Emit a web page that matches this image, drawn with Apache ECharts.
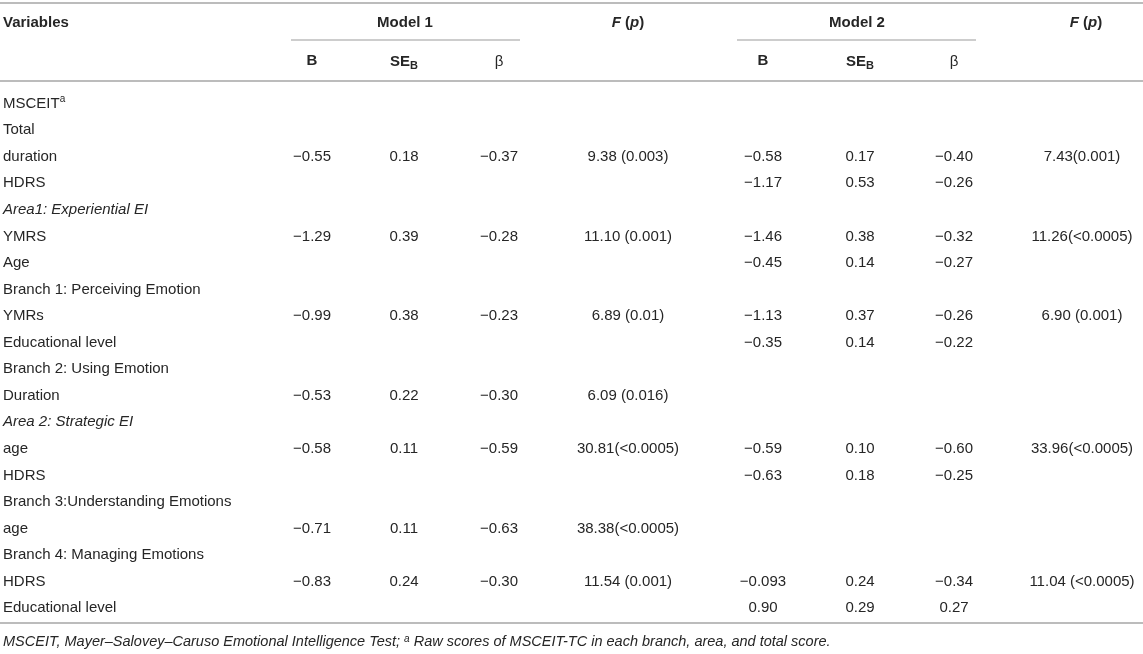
<!DOCTYPE html>
<html>
<head>
<meta charset="utf-8">
<script src="https://cdn.jsdelivr.net/npm/echarts@6/dist/echarts.min.js"></script>
<style>
  html, body { margin: 0; padding: 0; background: #fff; }
  #main { width: 1143px; height: 654px; }
</style>
</head>
<body>
<div id="main"></div>
<script>
// row labels (first column)
var variables = ['MSCEIT', 'Total', 'duration', 'HDRS', 'Area1: Experiential EI', 'YMRS', 'Age',
    'Branch 1: Perceiving Emotion', 'YMRs', 'Educational level', 'Branch 2: Using Emotion', 'Duration',
    'Area 2: Strategic EI', 'age', 'HDRS', 'Branch 3:Understanding Emotions', 'age',
    'Branch 4: Managing Emotions', 'HDRS', 'Educational level'];
var italicRows = [4, 12];

// Model 1
var m1B    = [null, null, '−0.55', null, null, '−1.29', null, null, '−0.99', null, null, '−0.53', null, '−0.58', null, null, '−0.71', null, '−0.83', null];
var m1SE   = [null, null, '0.18', null, null, '0.39', null, null, '0.38', null, null, '0.22', null, '0.11', null, null, '0.11', null, '0.24', null];
var m1Beta = [null, null, '−0.37', null, null, '−0.28', null, null, '−0.23', null, null, '−0.30', null, '−0.59', null, null, '−0.63', null, '−0.30', null];
var m1F    = [null, null, '9.38 (0.003)', null, null, '11.10 (0.001)', null, null, '6.89 (0.01)', null, null, '6.09 (0.016)', null, '30.81(<0.0005)', null, null, '38.38(<0.0005)', null, '11.54 (0.001)', null];

// Model 2
var m2B    = [null, null, '−0.58', '−1.17', null, '−1.46', '−0.45', null, '−1.13', '−0.35', null, null, null, '−0.59', '−0.63', null, null, null, '−0.093', '0.90'];
var m2SE   = [null, null, '0.17', '0.53', null, '0.38', '0.14', null, '0.37', '0.14', null, null, null, '0.10', '0.18', null, null, null, '0.24', '0.29'];
var m2Beta = [null, null, '−0.40', '−0.26', null, '−0.32', '−0.27', null, '−0.26', '−0.22', null, null, null, '−0.60', '−0.25', null, null, null, '−0.34', '0.27'];
var m2F    = [null, null, '7.43(0.001)', null, null, '11.26(<0.0005)', null, null, '6.90 (0.001)', null, null, null, null, '33.96(<0.0005)', null, null, null, null, '11.04 (<0.0005)', null];

var footnote = 'MSCEIT, Mayer–Salovey–Caruso Emotional Intelligence Test; {sup|a} Raw scores of MSCEIT-TC in each branch, area, and total score.';

// column layout (pixels) – styling only
var FONT = "'Liberation Sans', Arial, Helvetica, sans-serif";
var INK = '#262626';
var RULE = '#bcbcbc';
var columns = [
    { values: variables, x: 3,    align: 'left' },
    { values: m1B,       x: 312,  align: 'center' },
    { values: m1SE,      x: 404,  align: 'center' },
    { values: m1Beta,    x: 499,  align: 'center' },
    { values: m1F,       x: 628,  align: 'center' },
    { values: m2B,       x: 763,  align: 'center' },
    { values: m2SE,      x: 860,  align: 'center' },
    { values: m2Beta,    x: 954,  align: 'center' },
    { values: m2F,       x: 1082, align: 'center' }
];

var cells = [];
columns.forEach(function (c, ci) {
    c.values.forEach(function (v, ri) {
        if (v !== null) cells.push({ value: [ci, ri], text: v });
    });
});

function hdr(text, x, y, align, extra) {
    return {
        type: 'text', x: x, y: y, silent: true,
        style: Object.assign({
            text: text, fill: INK, textAlign: align, textVerticalAlign: 'middle',
            font: 'bold 15px ' + FONT
        }, extra || {})
    };
}
function rule(x1, x2, y, w) {
    return { type: 'line', silent: true, shape: { x1: x1, y1: y, x2: x2, y2: y }, style: { stroke: RULE, lineWidth: w } };
}

var fpRich = {
    rich: {
        it: { fontFamily: FONT, fontSize: 15, fontWeight: 'bold', fontStyle: 'italic', color: INK },
        n:  { fontFamily: FONT, fontSize: 15, fontWeight: 'bold', color: INK }
    }
};
var seRich = {
    rich: {
        n:   { fontFamily: FONT, fontSize: 15, fontWeight: 'bold', color: INK, lineHeight: 18 },
        sub: { fontFamily: FONT, fontSize: 11, fontWeight: 'bold', color: INK, verticalAlign: 'bottom', lineHeight: 15 }
    }
};
var betaStyle = { font: '15px ' + FONT };

var chart = echarts.init(document.getElementById('main'));
chart.setOption({
    backgroundColor: '#fff',
    animation: false,
    grid: { left: 0, right: 0, top: 90.4, bottom: 32.6 },
    xAxis: { type: 'value', min: 0, max: 1143, show: false },
    yAxis: { type: 'category', data: variables, inverse: true, show: false },
    graphic: [
        rule(0, 1143, 3, 2),
        rule(291, 520, 40, 1.5),
        rule(737, 976, 40, 1.5),
        rule(0, 1143, 81, 2),
        rule(0, 1143, 623, 2),
        hdr('Variables', 3, 23, 'left'),
        hdr('Model 1', 405, 23, 'center'),
        hdr('{it|F} {n|(}{it|p}{n|)}', 628, 23, 'center', fpRich),
        hdr('Model 2', 857, 23, 'center'),
        hdr('{it|F} {n|(}{it|p}{n|)}', 1086, 23, 'center', fpRich),
        hdr('B', 312, 61, 'center'),
        hdr('{n|SE}{sub|B}', 404, 62, 'center', seRich),
        hdr('β', 499, 62, 'center', betaStyle),
        hdr('B', 763, 61, 'center'),
        hdr('{n|SE}{sub|B}', 860, 62, 'center', seRich),
        hdr('β', 954, 62, 'center', betaStyle),
        {
            type: 'text', x: 3, y: 642, silent: true,
            style: {
                text: footnote, fill: INK, textVerticalAlign: 'middle',
                font: 'italic 14.5px ' + FONT,
                rich: { sup: { fontFamily: FONT, fontStyle: 'italic', fontSize: 10, color: INK, verticalAlign: 'top', lineHeight: 14 } }
            }
        }
    ],
    series: [{
        type: 'custom',
        data: cells,
        silent: true,
        renderItem: function (params, api) {
            var cell = cells[params.dataIndex];
            var c = columns[cell.value[0]];
            var pt = api.coord([c.x, cell.value[1]]);
            var row = cell.value[1];
            var style = {
                text: cell.text, fill: INK, textAlign: c.align, textVerticalAlign: 'middle',
                font: '15px ' + FONT
            };
            if (cell.value[0] === 0 && italicRows.indexOf(row) >= 0) style.font = 'italic 15px ' + FONT;
            if (cell.value[0] === 0 && row === 0) {
                style.text = '{n|MSCEIT}{sup|a}';
                style.rich = {
                    n: { fontFamily: FONT, fontSize: 15, color: INK, lineHeight: 18 },
                    sup: { fontFamily: FONT, fontSize: 10, color: INK, verticalAlign: 'top', lineHeight: 14 }
                };
            }
            return { type: 'text', x: pt[0], y: pt[1], style: style };
        }
    }]
});
</script>
</body>
</html>
